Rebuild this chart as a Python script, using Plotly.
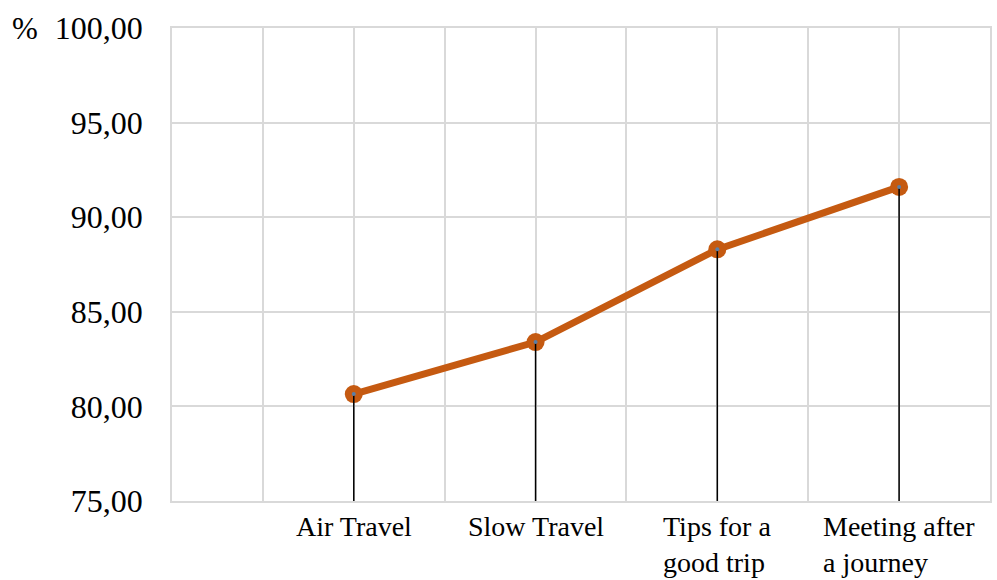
import plotly.graph_objects as go

categories = ["Air Travel", "Slow Travel", "Tips for a<br>good trip", "Meeting after<br>a journey"]
values = [80.65, 83.4, 88.3, 91.6]
y_ticks = [75, 80, 85, 90, 95, 100]
y_tick_labels = ["75,00", "80,00", "85,00", "90,00", "95,00", "100,00"]
baseline = 75

xpos = list(range(1, len(categories) + 1))
ORANGE = "#C55A11"
FONT = "Liberation Serif, Times New Roman, serif"
PLOT_H = 580 - 28 - 79

fig = go.Figure()
fig.add_trace(go.Scatter(
    x=xpos, y=values, mode="lines+markers",
    line=dict(color=ORANGE, width=7),
    marker=dict(color=ORANGE, size=18),
    showlegend=False, hoverinfo="skip",
))
for xi, yi in zip(xpos, values):
    fig.add_trace(go.Scatter(
        x=[xi, xi], y=[baseline, yi], mode="lines",
        line=dict(color="black", width=1.5),
        showlegend=False, hoverinfo="skip",
    ))
fig.add_trace(go.Scatter(
    x=xpos, y=values, mode="markers",
    marker=dict(color="#5B7FA6", size=4),
    showlegend=False, hoverinfo="skip",
))

gridvals = [i * 0.5 for i in range(0, 10)]

annotations = [dict(
    text="%", xref="paper", yref="paper", x=(10 - 172) / 818, y=1.0,
    xanchor="left", yanchor="middle", showarrow=False,
    font=dict(size=31, family=FONT, color="black"),
)]
for xi, cat in zip(xpos, categories):
    annotations.append(dict(
        text=cat, xref="x", yref="paper", x=xi, y=-8 / PLOT_H,
        xanchor="center", yanchor="top", align="left", showarrow=False,
        font=dict(size=28, family=FONT, color="black"),
    ))

fig.update_layout(
    width=997, height=580,
    margin=dict(l=172, r=7, t=28, b=79),
    plot_bgcolor="white", paper_bgcolor="white",
    font=dict(family=FONT, color="black"),
    xaxis=dict(
        range=[0, 4.5], tickvals=gridvals, showticklabels=False, automargin=False,
        showgrid=True, gridcolor="#D9D9D9", gridwidth=1.5,
        zeroline=False, showline=True, linecolor="#D9D9D9", linewidth=1.5, mirror=True,
    ),
    yaxis=dict(
        range=[75, 100], tickvals=y_ticks, ticktext=y_tick_labels, automargin=False,
        showgrid=True, gridcolor="#D9D9D9", gridwidth=1.5,
        zeroline=False, showline=True, linecolor="#D9D9D9", linewidth=1.5, mirror=True,
        ticks="outside", ticklen=21, tickcolor="rgba(0,0,0,0)",
        tickfont=dict(size=32, family=FONT, color="black"),
    ),
    annotations=annotations,
)

fig.write_html("out.html")
